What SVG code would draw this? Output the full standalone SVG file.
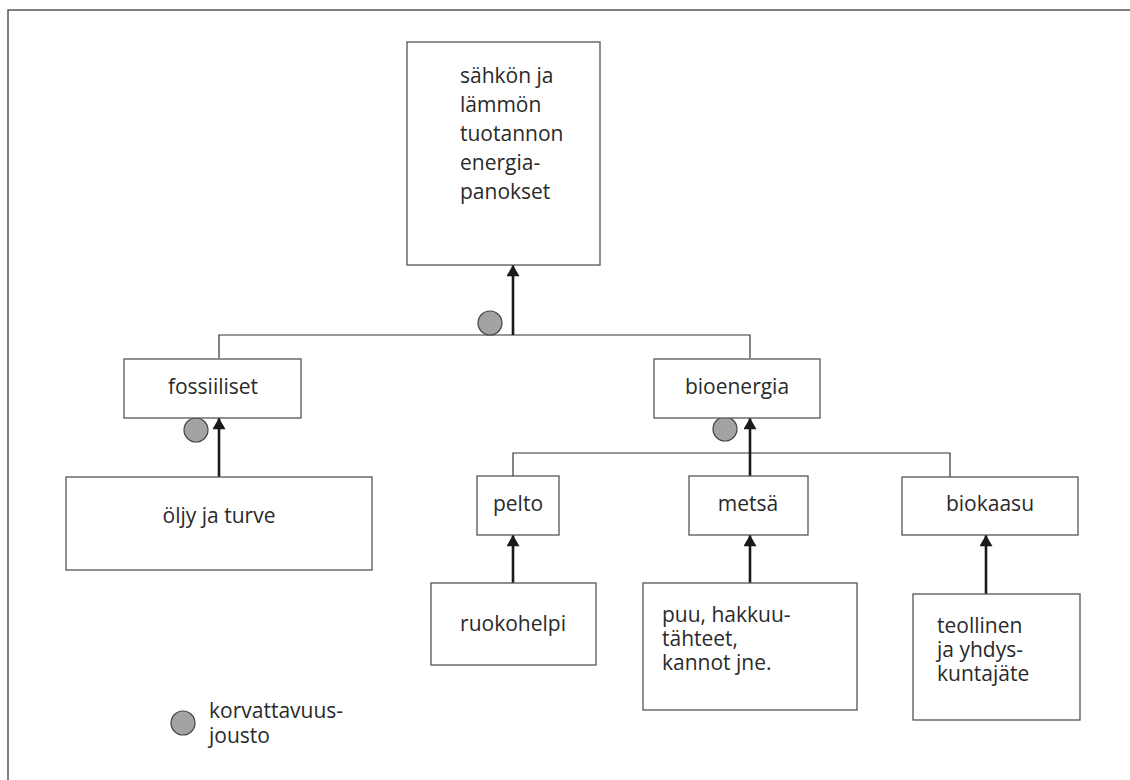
<svg xmlns="http://www.w3.org/2000/svg" width="1130" height="780" viewBox="0 0 1130 780">
<defs>
<marker id="arr" viewBox="0 0 12 14" refX="12" refY="7" markerWidth="14" markerHeight="13" markerUnits="userSpaceOnUse" orient="auto">
<path d="M0,0 L12,7 L0,14 Z" fill="#1a1a1a"/>
</marker>
</defs>
<style>
.box{fill:#fff;stroke:#555;stroke-width:1.3}
.t{font-family:"Open Sans","Noto Sans",sans-serif;font-size:21px;fill:#2a2a2a}
.c{text-anchor:middle}
.ln{fill:none;stroke:#333;stroke-width:1.2}
.ar{fill:none;stroke:#1a1a1a;stroke-width:2.6;marker-end:url(#arr)}
.dot{fill:#a3a3a4;stroke:#444;stroke-width:1.2}
</style>
<rect x="8" y="10" width="1140" height="790" fill="none" stroke="#555" stroke-width="1.5"/>
<g id="connectors">
<polyline class="ln" points="219,358 219,335 750,335 750,358"/>
<polyline class="ln" points="513,476 513,453 950,453 950,477"/>
<line class="ar" x1="513" y1="335" x2="513" y2="265"/>
<line class="ar" x1="219" y1="477" x2="219" y2="418"/>
<line class="ar" x1="750" y1="476" x2="750" y2="418"/>
<line class="ar" x1="513" y1="583" x2="513" y2="535"/>
<line class="ar" x1="750" y1="583" x2="750" y2="535"/>
<line class="ar" x1="986" y1="594" x2="986" y2="535"/>
<circle class="dot" cx="490" cy="323" r="12"/>
<circle class="dot" cx="196" cy="430" r="12"/>
<circle class="dot" cx="725" cy="429" r="12"/>
</g>
<g id="n-top">
<rect class="box" x="407" y="42" width="193" height="223"/>
<text class="t" x="460" y="83">sähkön ja</text>
<text class="t" x="460" y="112">lämmön</text>
<text class="t" x="460" y="141">tuotannon</text>
<text class="t" x="460" y="170">energia-</text>
<text class="t" x="460" y="199">panokset</text>
</g>
<g id="n-fossiiliset">
<rect class="box" x="124" y="359" width="177" height="59"/>
<text class="t c" x="213" y="394">fossiiliset</text>
</g>
<g id="n-bioenergia">
<rect class="box" x="654" y="359" width="166" height="59"/>
<text class="t c" x="737" y="394">bioenergia</text>
</g>
<g id="n-oljy">
<rect class="box" x="66" y="477" width="306" height="93"/>
<text class="t c" x="219" y="523">öljy ja turve</text>
</g>
<g id="n-pelto">
<rect class="box" x="477" y="476" width="82" height="59"/>
<text class="t c" x="518" y="511">pelto</text>
</g>
<g id="n-metsa">
<rect class="box" x="689" y="476" width="119" height="59"/>
<text class="t c" x="748" y="511">metsä</text>
</g>
<g id="n-biokaasu">
<rect class="box" x="902" y="477" width="176" height="58"/>
<text class="t c" x="990" y="511">biokaasu</text>
</g>
<g id="n-ruokohelpi">
<rect class="box" x="431" y="583" width="165" height="82"/>
<text class="t c" x="513" y="631">ruokohelpi</text>
</g>
<g id="n-puu">
<rect class="box" x="643" y="583" width="214" height="127"/>
<text class="t" x="662" y="622">puu, hakkuu-</text>
<text class="t" x="662" y="646">tähteet,</text>
<text class="t" x="662" y="670">kannot jne.</text>
</g>
<g id="n-teollinen">
<rect class="box" x="913" y="594" width="167" height="126"/>
<text class="t" x="937" y="633">teollinen</text>
<text class="t" x="937" y="657">ja yhdys-</text>
<text class="t" x="937" y="681">kuntajäte</text>
</g>
<g id="legend">
<circle class="dot" cx="183" cy="723" r="12"/>
<text class="t" x="209" y="718">korvattavuus-</text>
<text class="t" x="209" y="743">jousto</text>
</g>
</svg>
